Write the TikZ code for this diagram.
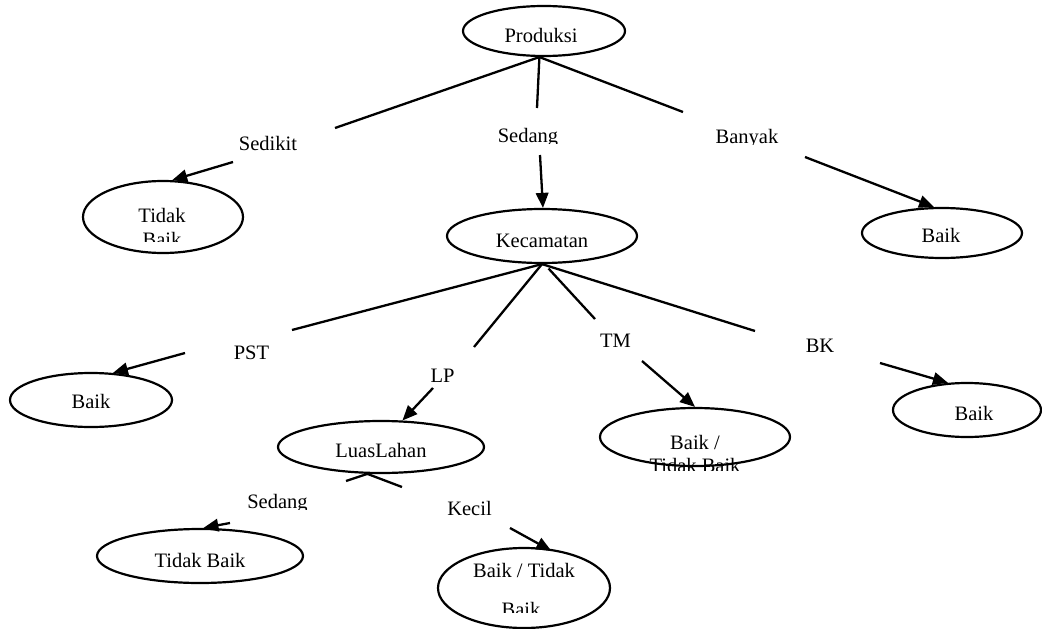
\documentclass[tikz,border=0pt]{standalone}
\usepackage{fontspec}
\setmainfont{Liberation Serif}
\usetikzlibrary{arrows.meta,shapes.geometric}
\begin{document}
\begin{tikzpicture}[x=1pt,y=-1pt,
  oval/.style={draw, ellipse, line width=2.2pt, inner sep=0pt},
  txt/.style={font=\fontsize{20.5}{24.6}\selectfont, inner sep=0pt, anchor=base},
  edgeline/.style={line width=2.3pt},
  arr/.style={line width=2.3pt, -{Triangle[length=15pt,width=12.5pt]}}]
\useasboundingbox (0,0) rectangle (1042,629);
% ellipses
\node[oval, minimum width=162pt, minimum height=50pt] (prod) at (544,31) {};
\node[oval, minimum width=160pt, minimum height=72pt] (tb1) at (163,217) {};
\node[oval, minimum width=190pt, minimum height=54pt] (kec) at (542,236) {};
\node[oval, minimum width=160pt, minimum height=50pt] (bk1) at (942,233) {};
\node[oval, minimum width=162pt, minimum height=54pt] (bl) at (91,400) {};
\node[oval, minimum width=206pt, minimum height=52pt] (ll) at (381,447) {};
\node[oval, minimum width=190pt, minimum height=58pt] (tm) at (695,437) {};
\node[oval, minimum width=148pt, minimum height=54pt] (br) at (967,410) {};
\node[oval, minimum width=206pt, minimum height=54pt] (tb2) at (200,556) {};
\node[oval, minimum width=172pt, minimum height=80pt] (bt) at (524,588) {};
% ellipse texts
\node[txt] (tprod) at (541,42) {Produksi};
\node[txt] (ttb1a) at (162,222) {Tidak};
\begin{scope}
\clip (0,0) rectangle (1042,241);
\node[txt] (ttb1b) at (162,246.6) {Baik};
\end{scope}
\node[txt] (tkec) at (542,247) {Kecamatan};
\node[txt] (tbk1) at (941,242) {Baik};
\node[txt] (tbl) at (91,408) {Baik};
\node[txt] (tll) at (381,457) {LuasLahan};
\node[txt] (ttma) at (695,449) {Baik /};
\begin{scope}
\clip (0,0) rectangle (1042,470);
\node[txt] (ttmb) at (695,472.5) {Tidak Baik};
\end{scope}
\node[txt] (tbr) at (974,420) {Baik};
\node[txt] (ttb2) at (200,567) {Tidak Baik};
\node[txt] (tbta) at (524,577) {Baik / Tidak};
\begin{scope}
\clip (0,0) rectangle (1042,612);
\node[txt] (tbtb) at (521,616) {Baik};
\end{scope}
% edge labels
\node[txt] (lsedikit) at (268,150) {Sedikit};
\begin{scope}
\clip (0,0) rectangle (1042,143);
\node[txt] (lsedang) at (528,142) {Sedang};
\end{scope}
\begin{scope}
\clip (0,0) rectangle (1042,144);
\node[txt] (lbanyak) at (747,143) {Banyak};
\end{scope}
\node[txt] (lpst) at (251.5,359) {PST};
\node[txt] (llp) at (442.5,382) {LP};
\node[txt] (ltm) at (615.5,347) {TM};
\node[txt] (lbk) at (820,352) {BK};
\begin{scope}
\clip (0,0) rectangle (1042,509);
\node[txt] (lsedang2) at (277.5,508) {Sedang};
\end{scope}
\node[txt] (lkecil) at (469.5,515) {Kecil};
% free ends of broken connectors
\coordinate (p1) at (335,128);
\coordinate (p2) at (537,108);
\coordinate (p3) at (683,112);
\coordinate (a1) at (233,162);
\coordinate (a2) at (540,155);
\coordinate (a3) at (805,157);
\coordinate (k1) at (292,330);
\coordinate (k2) at (474,347);
\coordinate (k3) at (595,319);
\coordinate (k4) at (755,331);
\coordinate (b1) at (185,353);
\coordinate (b2) at (433,388);
\coordinate (b3) at (642,361);
\coordinate (b4) at (880,363);
\coordinate (l1) at (346,481);
\coordinate (l2) at (402,487);
\coordinate (c1) at (230,523);
\coordinate (c2) at (510,528);
% lines from parents
\draw[edgeline] (prod.-100) -- (p1);
\draw[edgeline] (prod.-100) -- (p2);
\draw[edgeline] (prod.-100) -- (p3);
\draw[edgeline] (kec.south) -- (k1);
\draw[edgeline] (kec.south) -- (k2);
\draw[edgeline, shorten <=6pt] (kec.-85) -- (k3);
\draw[edgeline] (kec.south) -- (k4);
\draw[edgeline] (ll.-117) -- (l1);
\draw[edgeline] (ll.-117) -- (l2);
% arrows to children
\draw[arr] (a1) -- (tb1.76);
\draw[arr] (a2) -- (kec.88);
\draw[arr] (a3) -- (bk1.107);
\draw[arr] (b1) -- (bl.51);
\draw[arr] (b2) -- (ll.51);
\draw[arr] (b3) -- (tm.90);
\draw[arr] (b4) -- (br.125);
\draw[arr] (c1) -- (tb2.83);
\draw[arr, shorten >=-5pt] (c2) -- (bt.60);
\end{tikzpicture}
\end{document}
